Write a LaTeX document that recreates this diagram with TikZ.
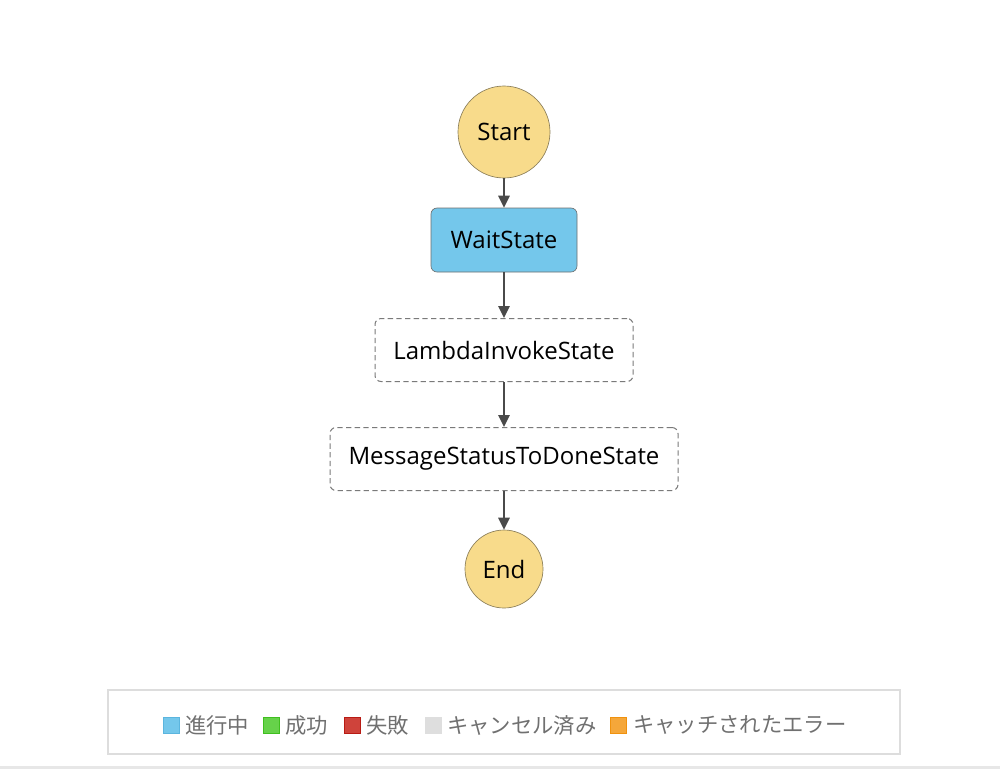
\documentclass[tikz,border=0pt]{standalone}
\usepackage{fontspec}
\setmainfont{Open Sans}
\newfontfamily\jpfont{Noto Sans CJK JP}
\usetikzlibrary{arrows.meta}
\definecolor{stendfill}{HTML}{F8DB8B}
\definecolor{stendline}{HTML}{8C7F5A}
\definecolor{runfill}{HTML}{74C7EB}
\definecolor{edgegray}{HTML}{4A4A4A}
\definecolor{dashgray}{HTML}{7A7A7A}
\definecolor{legline}{HTML}{DDDDDD}
\definecolor{legtext}{HTML}{707070}
\definecolor{okfill}{HTML}{66D24A}
\definecolor{okline}{HTML}{3FBF1F}
\definecolor{ngfill}{HTML}{CF433B}
\definecolor{ngline}{HTML}{B81B14}
\definecolor{cnfill}{HTML}{DEDEDE}
\definecolor{erfill}{HTML}{F5A73A}
\definecolor{erline}{HTML}{F0920E}
\definecolor{runline}{HTML}{5BB5DE}
\begin{document}
\begin{tikzpicture}[x=0.75pt,y=-0.75pt,
  stend/.style={circle,draw=stendline,line width=0.5pt,fill=stendfill,inner sep=0pt,font=\fontsize{18}{20}\selectfont},
  taskbox/.style={draw=edgegray!80,line width=0.5pt,fill=runfill,rounded corners=4.5pt,minimum height=48pt,inner sep=0pt,font=\fontsize{18}{20}\selectfont},
  pendbox/.style={draw=dashgray,line width=0.75pt,dash pattern=on 4pt off 2.5pt,rounded corners=4.5pt,minimum height=47.25pt,inner sep=0pt,font=\fontsize{18}{20}\selectfont},
  flow/.style={draw=edgegray,line width=1.5pt,-{Triangle[length=9pt,width=8.5pt]}},
  legsq/.style={minimum size=12pt,inner sep=0pt,line width=0.75pt},
  legtxt/.style={anchor=west,inner sep=0pt,text=legtext,font=\jpfont\fontsize{16}{18}\selectfont}]
\useasboundingbox (0,0) rectangle (1000,769);
%%% The states of the machine, top to bottom
\node[stend,minimum size=69pt] (start) at (504,132) {Start};
\node[taskbox,minimum width=109.5pt] (wait) at (504,240) {WaitState};
\node[pendbox,minimum width=193.5pt] (lambda) at (504,350) {LambdaInvokeState};
\node[pendbox,minimum width=261pt] (done) at (504,459) {MessageStatusToDoneState};
\node[stend,minimum size=58.5pt] (end) at (504,569) {End};
%%% Transitions
\draw[flow] (start) -- (wait);
\draw[flow] (wait) -- (lambda);
\draw[flow] (lambda) -- (done);
\draw[flow] (done) -- (end);
%%% Legend
\node[draw=legline,line width=1.5pt,minimum width=594pt,minimum height=48pt,inner sep=0pt] (legend) at (504,721.5) {};
\node[legsq,fill=runfill,draw=runline] (sqrun) at (171,725.5) {};
\node[legtxt] (txrun) at (185,725) {進行中};
\node[legsq,fill=okfill,draw=okline] (sqok) at (271.5,725.5) {};
\node[legtxt] (txok) at (285,725) {成功};
\node[legsq,fill=ngfill,draw=ngline] (sqng) at (352.5,725.5) {};
\node[legtxt] (txng) at (366,725) {失敗};
\node[legsq,fill=cnfill,draw=cnfill] (sqcn) at (433.5,725.5) {};
\node[legtxt] (txcn) at (447,725) {キャンセル済み};
\node[legsq,fill=erfill,draw=erline] (sqer) at (618.5,725.5) {};
\node[legtxt] (txer) at (633,725) {キャッチされたエラー};
%%% Bottom rule
\fill[legline!70] (0,766) rectangle (1000,769);
\end{tikzpicture}
\end{document}
